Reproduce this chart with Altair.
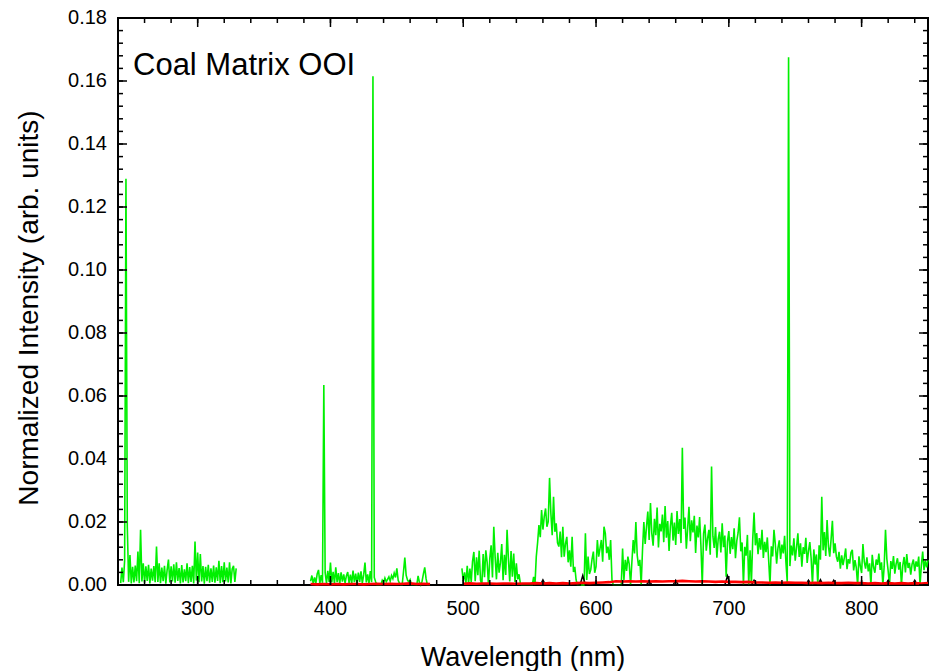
import altair as alt
import pandas as pd

# ---------------------------------------------------------------------------
# Spectra (normalized intensity, in units of 1e-3), sampled every 1 nm
# ---------------------------------------------------------------------------
GREEN_A_START = 242  # 242 .. 329 nm
green_a = [
    0.6, 5.5, 0.9, 7.8, 129.0, 18.5, 1.0, 9.5, 0.5, 5.8,
    0.8, 6.2, 1.2, 10.6, 0.6, 17.5, 1.1, 6.9, 0.7, 5.9,
    1.3, 6.4, 0.5, 5.2, 1.4, 6.0, 0.9, 12.2, 1.0, 6.9,
    0.6, 5.5, 1.2, 6.1, 0.4, 4.8, 8.1, 0.8, 5.9, 1.1,
    6.6, 0.7, 7.2, 1.3, 5.4, 0.5, 6.3, 0.8, 5.0, 1.2,
    6.9, 0.6, 5.7, 1.0, 6.1, 0.5, 13.8, 1.4, 10.3, 0.9,
    9.8, 1.1, 6.0, 0.4, 5.8, 1.2, 6.4, 0.7, 5.3, 1.0,
    6.2, 0.7, 5.6, 1.3, 7.7, 0.6, 6.0, 0.9, 7.2, 1.1,
    5.5, 0.8, 7.2, 0.5, 5.1, 6.1, 1.0, 5.3,
]

GREEN_B_START = 385  # 385 .. 475 nm
green_b = [
    1.2, 3.0, 0.4, 2.4, 0.6, 3.5, 4.8, 0.5, 3.1, 0.7,
    63.5, 3.9, 0.6, 4.5, 1.0, 7.1, 0.8, 4.2, 0.5, 5.6,
    0.9, 3.8, 0.4, 4.0, 1.1, 3.4, 0.6, 2.9, 4.1, 0.7,
    3.3, 0.5, 4.6, 0.9, 3.6, 0.4, 3.9, 1.0, 4.3, 0.6,
    3.2, 7.1, 0.8, 3.4, 0.5, 4.4, 0.9, 161.5, 2.4, 1.0,
    0.0, 0.0, 0.0, 0.0, 1.5, 0.8, 2.2, 1.0, 1.8, 2.6,
    1.2, 3.0, 2.0, 3.8, 2.4, 5.3, 1.5, 0.5, 0.0, 0.0,
    4.2, 8.7, 3.1, 1.6, 0.9, 1.7, 0.0, 0.0, 0.0, 0.0,
    0.0, 2.9, 0.8, 0.0, 1.2, 3.5, 5.6, 2.0, 0.0, 0.0, 0.0,
]

GREEN_C_START = 499  # 499 .. 850 nm
green_c = [
    5.3, 1.2, 4.0, 0.5, 6.1, 0.3, 5.2, 1.0, 7.5, 10.5,
    1.2, 8.8, 3.1, 10.9, 1.5, 0.2, 9.8, 2.5, 11.0, 7.2,
    0.0, 8.5, 12.6, 2.4, 18.5, 9.0, 1.8, 10.2, 3.9, 7.1,
    13.0, 1.5, 9.6, 3.2, 17.5, 8.3, 1.1, 10.8, 2.6, 10.0,
    1.0, 6.9, 1.8, 3.4, 0.5, 0.0, 0.0, 0.0, 0.0, 0.0,
    0.0, 0.0, 0.0, 0.0, 2.6, 0.0, 9.0, 13.5, 19.0, 15.2,
    23.8, 17.6, 21.7, 24.3, 18.5, 20.1, 34.0, 22.7, 15.8, 28.0,
    16.9, 19.6, 13.4, 12.2, 17.0, 8.8, 18.5, 9.0, 13.1, 15.3,
    7.2, 11.0, 5.8, 15.3, 4.1, 5.8, 1.6, 0.0, 0.0, 0.0,
    0.0, 0.0, 0.0, 16.4, 1.6, 9.0, 3.5, 4.8, 8.2, 10.6,
    3.9, 5.8, 14.3, 9.0, 11.6, 14.3, 7.4, 18.5, 16.4, 10.1,
    12.2, 8.0, 14.3, 1.6, 0.0, 0.0, 0.0, 0.0, 0.0, 0.0,
    0.0, 11.6, 1.6, 8.0, 4.5, 9.0, 6.6, 0.0, 7.3, 14.3,
    10.0, 20.0, 9.5, 6.1, 8.0, 0.0, 11.1, 20.0, 13.0, 18.5,
    23.3, 14.3, 26.0, 16.4, 12.5, 21.0, 15.8, 24.6, 11.9, 19.4,
    17.0, 22.4, 13.6, 25.1, 15.0, 20.3, 10.8, 18.7, 22.9, 14.1,
    19.8, 12.7, 23.5, 16.2, 20.9, 13.3, 43.6, 17.8, 21.4, 11.5,
    18.0, 24.8, 13.9, 20.5, 16.7, 22.0, 10.2, 18.9, 15.1, 21.6,
    12.4, 0.0, 16.3, 19.2, 10.9, 14.8, 17.5, 9.6, 37.6, 15.5,
    11.8, 18.4, 8.7, 14.6, 16.9, 10.3, 19.6, 12.0, 15.7, 2.6,
    13.8, 17.1, 9.9, 15.2, 11.4, 18.0, 8.5, 14.0, 16.6, 21.5,
    10.7, 13.5, 0.0, 12.1, 9.3, 15.9, 0.0, 11.0, 0.5, 14.4,
    23.0, 12.6, 16.5, 9.8, 14.9, 11.2, 17.5, 8.6, 13.7, 10.4,
    15.1, 7.9, 0.0, 12.3, 9.1, 17.5, 13.0, 6.8, 11.7, 14.2,
    8.3, 12.8, 10.0, 15.6, 7.2, 1.0, 167.5, 6.0, 12.5, 9.4,
    14.8, 7.7, 11.9, 16.4, 8.9, 13.2, 5.8, 12.0, 9.9, 15.0,
    7.0, 10.8, 13.6, 8.4, 0.0, 11.3, 6.5, 9.7, 0.0, 12.6,
    8.0, 28.0, 11.0, 16.8, 9.2, 20.6, 12.4, 9.0, 14.5, 20.4,
    10.1, 13.2, 9.0, 7.4, 10.5, 5.2, 9.4, 6.3, 8.7, 11.6,
    5.0, 8.2, 6.8, 10.3, 11.2, 4.6, 7.9, 5.5, 0.0, 9.1,
    6.1, 3.8, 13.0, 7.4, 5.2, 8.8, 4.3, 6.9, 0.0, 9.6,
    5.7, 3.9, 8.1, 6.4, 10.0, 4.8, 7.2, 0.0, 5.9, 17.5,
    8.3, 4.5, 0.0, 7.6, 5.1, 9.2, 3.6, 6.7, 8.5, 4.9,
    7.3, 0.0, 6.2, 8.9, 4.0, 9.8, 5.4, 7.0, 3.3, 6.6,
    8.1, 4.4, 7.5, 5.8, 9.0, 0.0, 6.3, 10.6, 4.7, 7.8,
    5.6, 8.0,
]

# Red trace (1e-3 units), sampled every 5 nm
RED_A_START = 385  # 385 .. 475 nm
red_a = [0.3, 0.2, 0.3, 0.2, 0.3, 0.2, 0.3, 0.3, 0.2, 0.3,
         0.4, 0.3, 0.4, 0.3, 0.4, 0.5, 0.3, 0.4, 0.3]
RED_B_START = 500  # 500 .. 850 nm
red_b = [0.4, 0.5, 0.4, 0.5, 0.5, 0.4, 0.5, 0.5, 0.4, 0.5,
         0.5, 0.6, 0.5, 0.6, 0.5, 0.6, 0.5, 0.6, 0.7, 0.6,
         0.7, 0.8, 0.9, 1.2, 1.1, 1.2, 1.1, 1.2, 1.1, 1.2,
         1.1, 1.2, 1.2, 1.3, 1.2, 1.1, 1.2, 1.1, 1.0, 1.1,
         1.0, 1.0, 0.9, 1.0, 0.8, 0.8, 0.7, 0.8, 0.7, 0.8,
         0.7, 0.7, 0.6, 0.7, 0.6, 0.7, 0.6, 0.6, 0.7, 0.6,
         0.6, 0.5, 0.6, 0.5, 0.6, 0.5, 0.6, 0.5, 0.6, 0.5, 0.6]

# Black trace (1e-3 units): flat baseline with a few small spikes
black_nm = [240, 330, 385, 475, 499, 558, 560, 562, 588, 590, 592,
            638, 640, 642, 658, 660, 662, 697, 699, 701, 717, 719, 721,
            758, 760, 762, 767, 769, 771, 777, 779, 781, 818, 820, 822,
            838, 840, 842, 850]
black_val = [0, 0, 0, 0, 0, 0, 1.6, 0, 0, 3.0, 0,
             0, 1.5, 0, 0, 1.5, 0, 0, 2.9, 0, 0, 1.5, 0,
             0, 1.5, 0, 0, 1.7, 0, 0, 1.5, 0, 0, 1.5, 0,
             0, 1.5, 0, 0]

# Axis ticks and their labels
X_MAJOR = [300, 400, 500, 600, 700, 800]
X_LABELS = ["300", "400", "500", "600", "700", "800"]
X_MINOR = [240, 260, 280, 300, 320, 340, 360, 380, 400, 420, 440, 460, 480,
           500, 520, 540, 560, 580, 600, 620, 640, 660, 680, 700, 720, 740,
           760, 780, 800, 820, 840]
Y_MAJOR = [0.0, 0.02, 0.04, 0.06, 0.08, 0.10, 0.12, 0.14, 0.16, 0.18]
Y_LABELS = ["0.00", "0.02", "0.04", "0.06", "0.08", "0.10", "0.12", "0.14",
            "0.16", "0.18"]
Y_MINOR = [0.0, 0.004, 0.008, 0.012, 0.016, 0.02, 0.024, 0.028, 0.032, 0.036,
           0.04, 0.044, 0.048, 0.052, 0.056, 0.06, 0.064, 0.068, 0.072, 0.076,
           0.08, 0.084, 0.088, 0.092, 0.096, 0.1, 0.104, 0.108, 0.112, 0.116,
           0.12, 0.124, 0.128, 0.132, 0.136, 0.14, 0.144, 0.148, 0.152, 0.156,
           0.16, 0.164, 0.168, 0.172, 0.176, 0.18]

X_TITLE = "Wavelength (nm)"
Y_TITLE = "Normalized Intensity (arb. units)"

LABEL_TEXT = "Coal Matrix OOI"
LABEL_NM = 251.3
LABEL_VAL = 0.1619

# ---------------------------------------------------------------------------
# Plot geometry
# ---------------------------------------------------------------------------
W, H = 810, 567
X_DOMAIN = [240, 850]
Y_DOMAIN = [0, 0.18]
MAJOR_PX, MINOR_PX = 9, 5
FONT = "Liberation Sans"

# data units per pixel, used to express tick lengths in pixels
NM_PER_PX = (X_DOMAIN[1] - X_DOMAIN[0]) / W
VAL_PER_PX = (Y_DOMAIN[1] - Y_DOMAIN[0]) / H

# ---------------------------------------------------------------------------
# Tables
# ---------------------------------------------------------------------------
def segments(parts, step):
    rows = []
    for seg, (start, vals) in enumerate(parts):
        for i, v in enumerate(vals):
            rows.append({"nm": start + i * step, "val": v * 1e-3, "seg": seg})
    return pd.DataFrame(rows)


green_df = segments([(GREEN_A_START, green_a), (GREEN_B_START, green_b),
                     (GREEN_C_START, green_c)], 1)
red_df = segments([(RED_A_START, red_a), (RED_B_START, red_b)], 5)
black_df = pd.DataFrame({"nm": black_nm, "val": [v * 1e-3 for v in black_val]})
label_df = pd.DataFrame({"nm": [LABEL_NM], "val": [LABEL_VAL], "text": [LABEL_TEXT]})
xlab_df = pd.DataFrame({"v": X_MAJOR, "text": X_LABELS})
ylab_df = pd.DataFrame({"v": Y_MAJOR, "text": Y_LABELS})
xtitle_df = pd.DataFrame({"text": [X_TITLE]})
ytitle_df = pd.DataFrame({"text": [Y_TITLE]})

# Inward tick marks on all four sides, each a two-point segment
tick_rows = []


def add_x_ticks(values, px):
    dy = px * VAL_PER_PX
    for v in values:
        for y0, y1 in ((Y_DOMAIN[0], Y_DOMAIN[0] + dy),
                       (Y_DOMAIN[1], Y_DOMAIN[1] - dy)):
            tid = len(tick_rows)
            tick_rows.append({"id": tid, "nm": v, "val": y0})
            tick_rows.append({"id": tid, "nm": v, "val": y1})


def add_y_ticks(values, px):
    dx = px * NM_PER_PX
    for v in values:
        for x0, x1 in ((X_DOMAIN[0], X_DOMAIN[0] + dx),
                       (X_DOMAIN[1], X_DOMAIN[1] - dx)):
            tid = len(tick_rows)
            tick_rows.append({"id": tid, "nm": x0, "val": v})
            tick_rows.append({"id": tid, "nm": x1, "val": v})


add_x_ticks(X_MINOR, MINOR_PX)
add_x_ticks(X_MAJOR, MAJOR_PX)
add_y_ticks(Y_MINOR, MINOR_PX)
add_y_ticks(Y_MAJOR, MAJOR_PX)
ticks_df = pd.DataFrame(tick_rows)

# ---------------------------------------------------------------------------
# Scales; frame ticks, tick labels and titles are drawn as marks
# ---------------------------------------------------------------------------
x_scale = alt.Scale(domain=X_DOMAIN, nice=False, zero=False)
y_scale = alt.Scale(domain=Y_DOMAIN, nice=False, zero=False)


def X(field):
    return alt.X(field, scale=x_scale, axis=None)


def Y(field):
    return alt.Y(field, scale=y_scale, axis=None)


ticks = alt.Chart(ticks_df).mark_line(
    color="black", strokeWidth=1.5, strokeCap="butt"
).encode(x=X("nm:Q"), y=Y("val:Q"), detail="id:N")

x_labels = alt.Chart(xlab_df).mark_text(
    align="center", baseline="top", font=FONT, fontSize=20, color="black"
).encode(x=X("v:Q"), y=alt.value(H + 14), text="text:N")

y_labels = alt.Chart(ylab_df).mark_text(
    align="right", baseline="middle", font=FONT, fontSize=20, color="black"
).encode(y=Y("v:Q"), x=alt.value(-11), text="text:N")

x_title = alt.Chart(xtitle_df).mark_text(
    align="center", baseline="alphabetic", font=FONT, fontSize=27, color="black"
).encode(x=alt.value(W / 2), y=alt.value(H + 81), text="text:N")

y_title = alt.Chart(ytitle_df).mark_text(
    align="center", baseline="alphabetic", angle=270, font=FONT, fontSize=28,
    color="black"
).encode(x=alt.value(-80), y=alt.value(290), text="text:N")

# ---------------------------------------------------------------------------
# Spectral traces and label
# ---------------------------------------------------------------------------
green = alt.Chart(green_df).mark_line(color="#00f000", strokeWidth=1.6).encode(
    x=X("nm:Q"), y=Y("val:Q"), detail="seg:N"
)

black = alt.Chart(black_df).mark_line(color="black", strokeWidth=1.5).encode(
    x=X("nm:Q"), y=Y("val:Q")
)

red = alt.Chart(red_df).mark_line(color="#ff0000", strokeWidth=2.6).encode(
    x=X("nm:Q"), y=Y("val:Q"), detail="seg:N"
)

label = alt.Chart(label_df).mark_text(
    align="left", baseline="alphabetic", font=FONT, fontSize=31, color="black"
).encode(x=X("nm:Q"), y=Y("val:Q"), text="text:N")

chart = (
    alt.layer(green, black, red, ticks, label,
              x_labels, y_labels, x_title, y_title)
    .properties(
        width=W,
        height=H,
        autosize=alt.AutoSizeParams(type="none"),
        padding={"left": 118, "top": 18, "right": 6, "bottom": 86},
        background="white",
    )
    .configure_view(stroke="black", strokeWidth=2)
)

chart.save("out.html", embed_options={"renderer": "svg", "actions": False})
